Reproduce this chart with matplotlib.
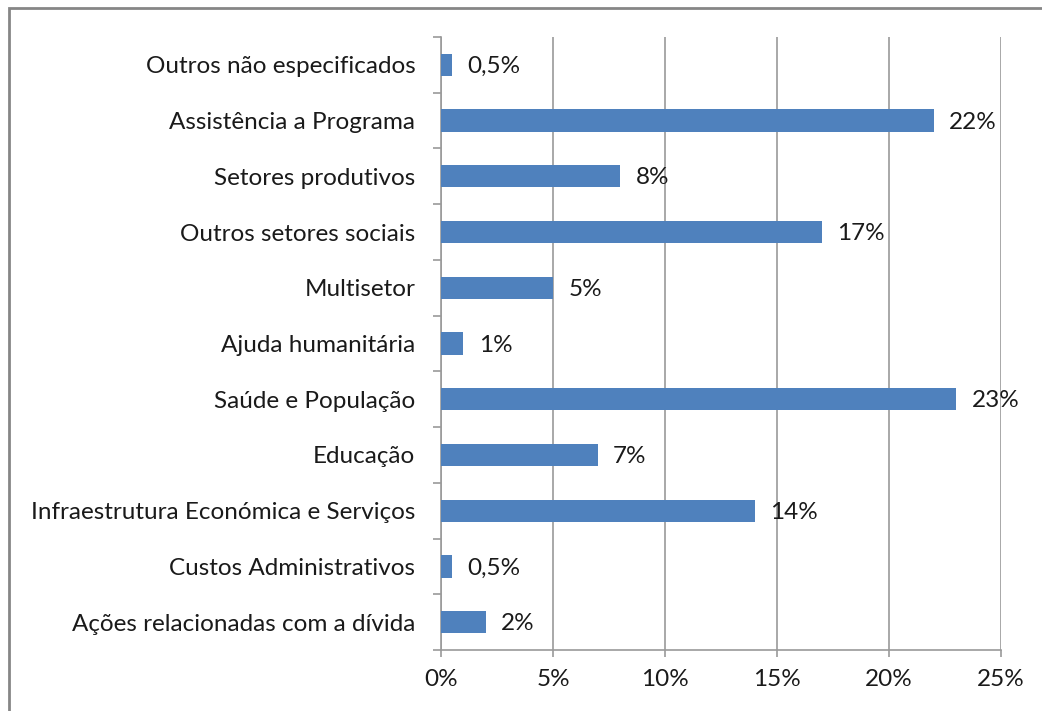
import matplotlib
matplotlib.use("Agg")
import matplotlib.pyplot as plt
import matplotlib.patches as patches
import numpy as np

# categories bottom to top
categories = ['Ações relacionadas com a dívida', 'Custos Administrativos',
              'Infraestrutura Económica e Serviços', 'Educação',
              'Saúde e População', 'Ajuda humanitária', 'Multisetor',
              'Outros setores sociais', 'Setores produtivos',
              'Assistência a Programa', 'Outros não especificados']
values = [2, 0.5, 14, 7, 23, 1, 5, 17, 8, 22, 0.5]
value_labels = ['2%', '0,5%', '14%', '7%', '23%', '1%', '5%', '17%', '8%', '22%', '0,5%']
xticks = [0, 5, 10, 15, 20, 25]

plt.rcParams['font.family'] = ['Lato', 'DejaVu Sans']
grey = '#9a9a9a'
fs = 17.5

fig = plt.figure(figsize=(10.42, 7.11), dpi=100)
ax = fig.add_axes([441/1042, 1 - 650/711, (1001-441)/1042, (650-37)/711])

y = np.arange(len(categories))
ax.barh(y, values, height=0.4, color='#4F81BD', zorder=3)
for yi, v, lab in zip(y, values, value_labels):
    ax.text(v + 0.68, yi - 0.03, lab, va='center', ha='left', fontsize=fs, color='#1a1a1a')

ax.set_xlim(0, 25)
ax.set_ylim(-0.5, len(categories) - 0.5)
ax.set_xticks(xticks)
ax.set_xticklabels([f'{t}%' for t in xticks], fontsize=fs, color='#1a1a1a')
ax.set_yticks(y)
ax.set_yticklabels(categories, fontsize=fs, color='#1a1a1a')
ax.set_yticks(np.arange(-0.5, len(categories), 1), minor=True)
ax.tick_params(axis='y', which='major', length=0, pad=18.5)
ax.tick_params(axis='y', which='minor', length=5.5, color=grey, width=1.2)
ax.tick_params(axis='x', length=5, color=grey, width=1.2, pad=9)
ax.xaxis.grid(True, color=grey, linewidth=1.2, zorder=0)
for s in ['top', 'right']:
    ax.spines[s].set_visible(False)
for s in ['left', 'bottom']:
    ax.spines[s].set_color(grey)
    ax.spines[s].set_linewidth(1.2)

fig.patches.append(patches.Rectangle((9/1042, -0.1), 1.2, 1.1 - 8/711,
                                     transform=fig.transFigure, fill=False,
                                     edgecolor='#868686', linewidth=2))

fig.savefig('out.png', dpi=100)
